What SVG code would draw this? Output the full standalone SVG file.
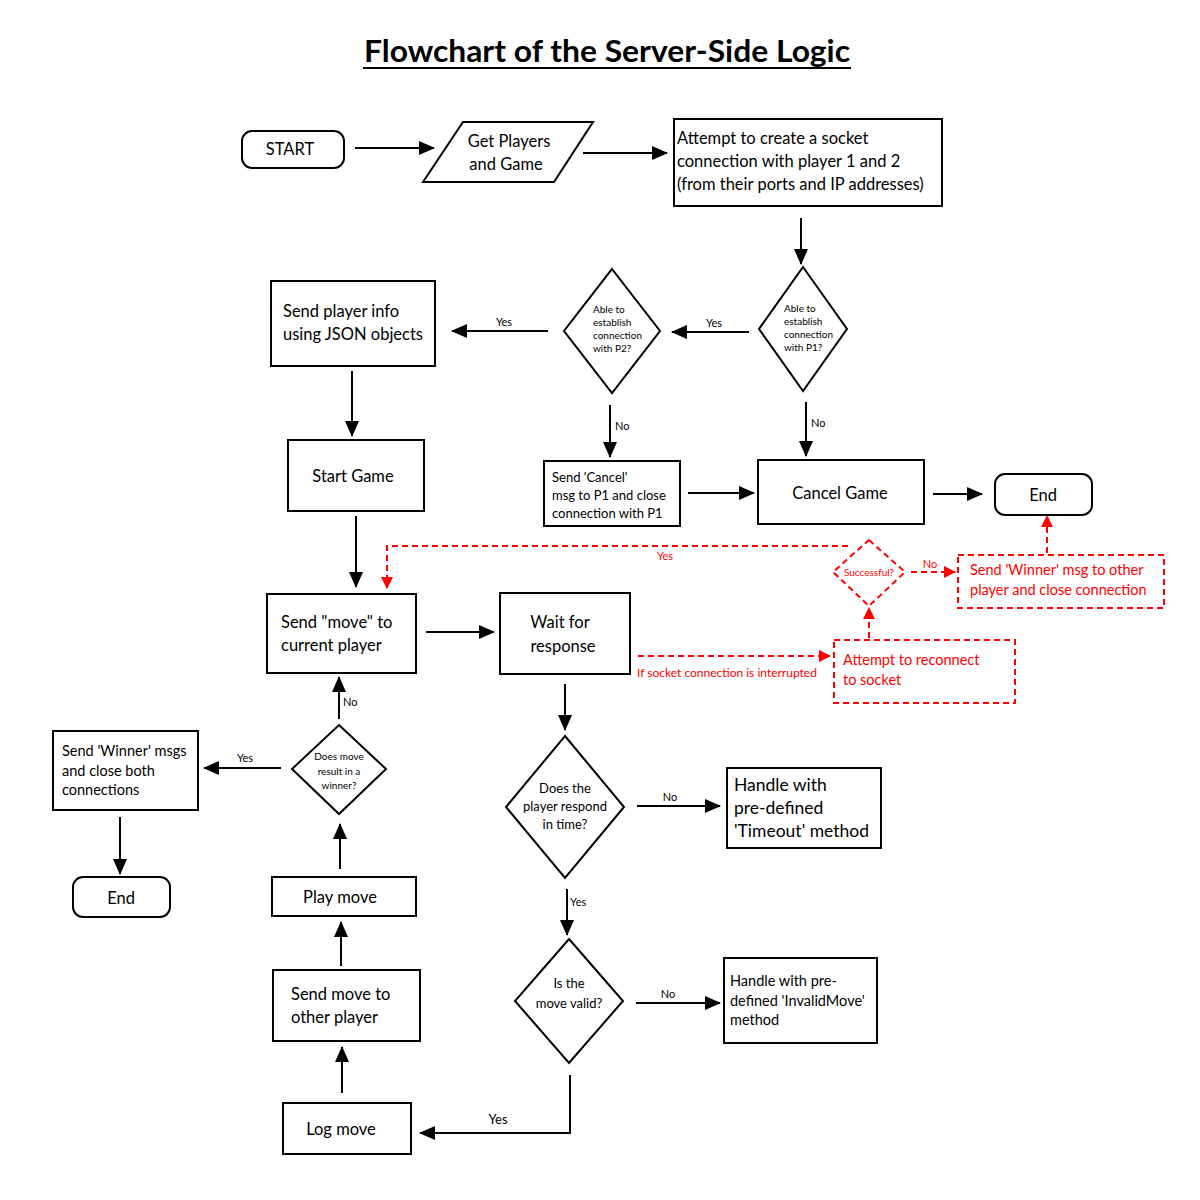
<svg xmlns="http://www.w3.org/2000/svg" width="1200" height="1200" viewBox="0 0 1200 1200">
<defs>
<marker id="ah" markerUnits="userSpaceOnUse" markerWidth="16" markerHeight="14" refX="15" refY="7" orient="auto"><path d="M0,0 L16,7 L0,14 Z" fill="#000"/></marker>
<marker id="ahr" markerUnits="userSpaceOnUse" markerWidth="12" markerHeight="12" refX="11" refY="6" orient="auto"><path d="M0,0 L12,6 L0,12 Z" fill="#ff0000"/></marker>
<style>
text{font-family:Lato,"Open Sans","Noto Sans",sans-serif;fill:#000}
.n{fill:#fff;stroke:#000;stroke-width:2}
.r{fill:#fff;stroke:#ff0000;stroke-width:2;stroke-dasharray:6,4}
.c{fill:none;stroke:#000;stroke-width:2;marker-end:url(#ah)}
.cr{fill:none;stroke:#ff0000;stroke-width:2;stroke-dasharray:6,4;marker-end:url(#ahr)}
.t17{font-size:17.5px}
.t16{font-size:16.5px}
.t14{font-size:14.5px}
.t13{font-size:13px}
.t10{font-size:10px}
.lb{font-size:11px}
.red{fill:#ff0000}
.m{text-anchor:middle}
</style>
</defs>
<rect width="1200" height="1200" fill="#fff"/>
<text x="607" y="62" class="m" style="font-size:31px;font-weight:bold" textLength="486" lengthAdjust="spacingAndGlyphs">Flowchart of the Server-Side Logic</text>
<line x1="363" y1="68" x2="851" y2="68" stroke="#000" stroke-width="2"/>

<g id="connectors">
<path class="c" d="M355,148 H434"/>
<path class="c" d="M583,153 H667"/>
<path class="c" d="M801,218 V264"/>
<path class="c" d="M749,332 H672"/>
<text x="714" y="327" class="lb m">Yes</text>
<path class="c" d="M548,331 H452"/>
<text x="504" y="326" class="lb m">Yes</text>
<path class="c" d="M352,371 V436"/>
<path class="c" d="M356,516 V587"/>
<path class="c" d="M610,405 V457"/>
<text x="615" y="430" class="lb">No</text>
<path class="c" d="M806,402 V456"/>
<text x="811" y="427" class="lb">No</text>
<path class="c" d="M688,493 H754"/>
<path class="c" d="M933,494 H982"/>
<path class="cr" d="M848,546 H387 V588"/>
<text x="665" y="560" class="lb red m">Yes</text>
<path class="cr" d="M911,572 H955"/>
<text x="930" y="568" class="lb red m">No</text>
<path class="cr" d="M1047,553 V516"/>
<path class="cr" d="M869,638 V608"/>
<path class="cr" d="M638,656 H830"/>
<text x="637" y="677" class="red" style="font-size:12px">If socket connection is interrupted</text>
<path class="c" d="M426,632 H494"/>
<path class="c" d="M565,684 V730"/>
<path class="c" d="M637,806 H720"/>
<text x="670" y="801" class="lb m">No</text>
<path class="c" d="M567,889 V935"/>
<text x="570" y="906" class="lb">Yes</text>
<path class="c" d="M636,1003 H720"/>
<text x="668" y="998" class="lb m">No</text>
<path class="c" d="M570,1075 V1133 H420"/>
<text x="498" y="1124" class="t13 m">Yes</text>
<path class="c" d="M342,1093 V1047"/>
<path class="c" d="M341,966 V922"/>
<path class="c" d="M340,869 V824"/>
<path class="c" d="M339,719 V677"/>
<text x="343" y="706" class="lb">No</text>
<path class="c" d="M281,768 H204"/>
<text x="245" y="762" class="lb m">Yes</text>
<path class="c" d="M120,817 V874"/>
</g>

<g id="start"><rect class="n" x="242" y="131" width="102" height="37" rx="10"/><text x="290" y="155" class="t16 m">START</text></g>
<g id="get-players"><polygon class="n" points="423,182 463,122 593,122 554,182"/><text x="509" y="147" class="t16 m">Get Players</text><text x="506" y="170" class="t16 m">and Game</text></g>
<g id="attempt-socket"><rect class="n" x="674" y="119" width="268" height="87"/><text x="677" y="144" class="t16">Attempt to create a socket</text><text x="677" y="167" class="t16">connection with player 1 and 2</text><text x="677" y="190" class="t16">(from their ports and IP addresses)</text></g>
<g id="p1-check"><polygon class="n" points="803,267 847,329 803,391 759,329"/><text x="784" y="312" class="t10">Able to</text><text x="784" y="325" class="t10">establish</text><text x="784" y="338" class="t10">connection</text><text x="784" y="351" class="t10">with P1?</text></g>
<g id="p2-check"><polygon class="n" points="612,269 660,331 612,393 564,331"/><text x="593" y="313" class="t10">Able to</text><text x="593" y="326" class="t10">establish</text><text x="593" y="339" class="t10">connection</text><text x="593" y="352" class="t10">with P2?</text></g>
<g id="send-info"><rect class="n" x="271" y="281" width="164" height="85"/><text x="283" y="317" class="t16">Send player info</text><text x="283" y="340" class="t16">using JSON objects</text></g>
<g id="start-game"><rect class="n" x="288" y="440" width="136" height="71"/><text x="353" y="482" class="t16 m">Start Game</text></g>
<g id="send-cancel"><rect class="n" x="544" y="461" width="136" height="65"/><text x="552" y="482" class="t13">Send 'Cancel'</text><text x="552" y="500" class="t13">msg to P1 and close</text><text x="552" y="518" class="t13">connection with P1</text></g>
<g id="cancel-game"><rect class="n" x="758" y="460" width="166" height="64"/><text x="840" y="499" class="t16 m">Cancel Game</text></g>
<g id="end-1"><rect class="n" x="995" y="474" width="97" height="41" rx="10"/><text x="1043" y="501" class="t16 m">End</text></g>
<g id="successful"><polygon class="r" points="869,540 905,572 869,606 833,572"/><text x="869" y="576" class="t10 red m">Successful?</text></g>
<g id="send-winner-other"><rect class="r" x="958" y="555" width="206" height="53"/><text x="970" y="575" class="t14 red">Send 'Winner' msg to other</text><text x="970" y="595" class="t14 red">player and close connection</text></g>
<g id="reconnect"><rect class="r" x="834" y="640" width="181" height="63"/><text x="843" y="665" class="t14 red">Attempt to reconnect</text><text x="843" y="685" class="t14 red">to socket</text></g>
<g id="send-move"><rect class="n" x="267" y="594" width="149" height="79"/><text x="281" y="628" class="t16">Send "move" to</text><text x="281" y="651" class="t16">current player</text></g>
<g id="wait"><rect class="n" x="500" y="593" width="130" height="81"/><text x="560" y="628" class="t16 m">Wait for</text><text x="563" y="652" class="t16 m">response</text></g>
<g id="respond-time"><polygon class="n" points="565,736 624,807 565,878 506,807"/><text x="565" y="793" class="t13 m">Does the</text><text x="565" y="811" class="t13 m">player respond</text><text x="565" y="829" class="t13 m">in time?</text></g>
<g id="timeout"><rect class="n" x="727" y="768" width="154" height="80"/><text x="734" y="791" class="t17">Handle with</text><text x="734" y="814" class="t17">pre-defined</text><text x="734" y="837" class="t17">'Timeout' method</text></g>
<g id="valid"><polygon class="n" points="569,939 623,1001 569,1063 515,1001"/><text x="569" y="988" class="t13 m">Is the</text><text x="569" y="1008" class="t13 m">move valid?</text></g>
<g id="invalid"><rect class="n" x="724" y="958" width="153" height="85"/><text x="730" y="986" class="t14">Handle with pre-</text><text x="730" y="1006" class="t14">defined 'InvalidMove'</text><text x="730" y="1025" class="t14">method</text></g>
<g id="log-move"><rect class="n" x="283" y="1103" width="128" height="51"/><text x="341" y="1135" class="t16 m">Log move</text></g>
<g id="send-other"><rect class="n" x="273" y="970" width="147" height="71"/><text x="291" y="1000" class="t16">Send move to</text><text x="291" y="1023" class="t16">other player</text></g>
<g id="play-move"><rect class="n" x="272" y="877" width="144" height="39"/><text x="340" y="903" class="t16 m">Play move</text></g>
<g id="winner-check"><polygon class="n" points="339,725 386,769 339,814 292,769"/><text x="339" y="760" class="t10 m">Does move</text><text x="339" y="775" class="t10 m">result in a</text><text x="339" y="789" class="t10 m">winner?</text></g>
<g id="send-winner-both"><rect class="n" x="53" y="731" width="145" height="79"/><text x="62" y="756" class="t14">Send 'Winner' msgs</text><text x="62" y="776" class="t14">and close both</text><text x="62" y="795" class="t14">connections</text></g>
<g id="end-2"><rect class="n" x="73" y="877" width="97" height="40" rx="10"/><text x="121" y="904" class="t16 m">End</text></g>
</svg>
